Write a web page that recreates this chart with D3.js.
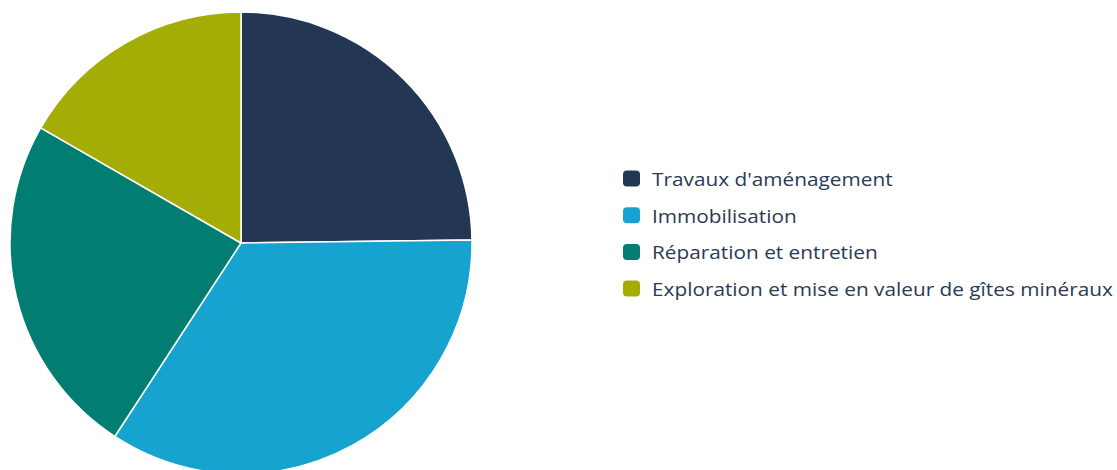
<!DOCTYPE html>
<html><head><meta charset="utf-8">
<script src="https://cdn.jsdelivr.net/npm/d3@7"></script>
<style>body{margin:0;background:#fff;}svg{display:block;}</style>
</head><body>
<svg id="c" width="1117" height="470"></svg>
<script>
const categories = ["Travaux d'aménagement","Immobilisation","Réparation et entretien","Exploration et mise en valeur de gîtes minéraux"];
const values = [24.8, 34.4, 24.1, 16.7];
const colors = ["#233654","#16a3cf","#027d72","#a3ad06"];

const svg = d3.select("#c");
const cx = 241, cy = 243, r = 231;
const pie = d3.pie().sort(null).value(d => d)(values);
const arc = d3.arc().innerRadius(0).outerRadius(r);
const g = svg.append("g").attr("transform", `translate(${cx},${cy})`);
g.selectAll("path").data(pie).join("path")
  .attr("d", arc)
  .attr("fill", (d,i) => colors[i])
  .attr("stroke", "#fff").attr("stroke-width", 1.5).attr("stroke-linejoin","round");

const lg = svg.append("g").attr("transform", "translate(623,170.5)");
const row = lg.selectAll("g").data(categories).join("g")
  .attr("transform", (d,i) => `translate(0,${i*36.7})`);
row.append("rect").attr("width",17).attr("height",16).attr("rx",4).attr("ry",4)
  .attr("fill", (d,i) => colors[i]);
row.append("text").attr("transform","translate(29,15.5) scale(1.095,1)")
  .attr("font-family","'Open Sans', sans-serif").attr("font-size",19)
  .attr("fill","#2b3a55").text(d => d);
</script>
</body></html>
